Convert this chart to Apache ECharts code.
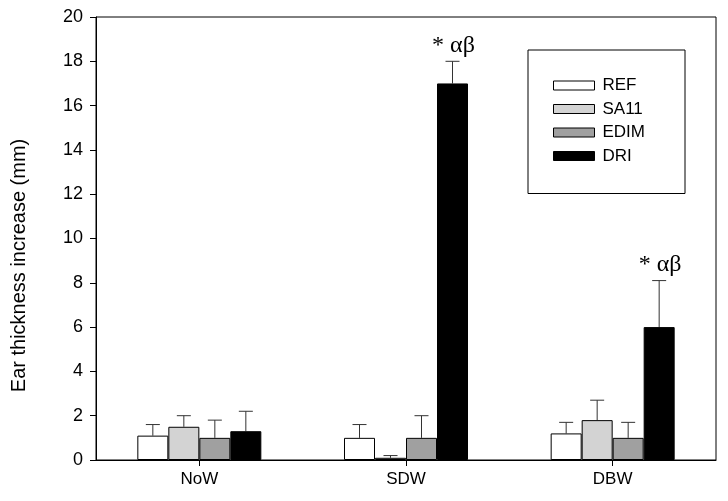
<!DOCTYPE html>
<html>
<head>
<meta charset="utf-8">
<script src="https://cdn.jsdelivr.net/npm/echarts@6/dist/echarts.min.js"></script>
<style>html,body{margin:0;padding:0;background:#fff;}#c{width:728px;height:501px;}</style>
</head>
<body>
<div id="c"></div>
<script>
const categories = ['NoW', 'SDW', 'DBW'];
const seriesNames = ['REF', 'SA11', 'EDIM', 'DRI'];
const refValues = [1.1, 1.0, 1.2];
const sa11Values = [1.5, 0.1, 1.8];
const edimValues = [1.0, 1.0, 1.0];
const driValues = [1.3, 17.0, 6.0];
const refErr = [0.5, 0.6, 0.5];
const sa11Err = [0.5, 0.1, 0.9];
const edimErr = [0.8, 1.0, 0.7];
const driErr = [0.9, 1.0, 2.1];
const annotations = ['', '* αβ', '* αβ'];
const yTicks = [0, 2, 4, 6, 8, 10, 12, 14, 16, 18, 20];

const colors = ['#ffffff', '#d3d3d3', '#a0a0a0', '#000000'];
const values = [refValues, sa11Values, edimValues, driValues];
const errs = [refErr, sa11Err, edimErr, driErr];
const sans = '"Liberation Sans", Arial, sans-serif';

const chart = echarts.init(document.getElementById('c'), null, {renderer: 'canvas'});

const barSeries = seriesNames.map((n, i) => ({
  name: n,
  type: 'bar',
  data: values[i],
  barGap: 0,
  barCategoryGap: '40%',
  itemStyle: {color: colors[i], borderColor: '#000', borderWidth: 1},
  emphasis: {disabled: true},
  z: 2
}));

const errData = [];
values.forEach((arr, s) => arr.forEach((v, c) => errData.push([c, v, errs[s][c], s])));

const errSeries = {
  type: 'custom',
  data: errData,
  encode: {x: 0, y: 1},
  z: 1,
  renderItem: function (params, api) {
    const c = api.value(0), v = api.value(1), e = api.value(2), s = api.value(3);
    const band = api.size([1, 0])[0];
    const x = api.coord([c, 0])[0] + (s - 1.5) * band * 0.15;
    const y0 = api.coord([c, v])[1];
    const y1 = api.coord([c, v + e])[1];
    const st = {stroke: '#333', lineWidth: 1};
    return {type: 'group', children: [
      {type: 'line', shape: {x1: x, y1: y0, x2: x, y2: y1}, style: st},
      {type: 'line', shape: {x1: x - 7, y1: y1, x2: x + 7, y2: y1}, style: st}
    ]};
  }
};

const annData = annotations.map((t, c) => [c, driValues[c] + driErr[c], t]);
const annSeries = {
  type: 'custom',
  data: annData,
  encode: {x: 0, y: 1},
  z: 3,
  renderItem: function (params, api) {
    const c = api.value(0), top = api.value(1);
    const t = annotations[params.dataIndex];
    if (!t) return null;
    const band = api.size([1, 0])[0];
    const x = api.coord([c, 0])[0] + 1.5 * band * 0.15 + 1;
    const y = api.coord([c, top])[1] - 4;
    return {type: 'text', style: {text: t, x: x, y: y, align: 'center', verticalAlign: 'bottom',
      font: '24px "Liberation Serif", "DejaVu Serif", serif', fill: '#000'}};
  }
};

chart.setOption({
  animation: false,
  grid: {left: 96, right: 12, top: 17, bottom: 41, show: true, borderColor: '#000', borderWidth: 1},
  legend: {
    data: seriesNames,
    orient: 'vertical',
    left: 528, top: 50,
    padding: [27, 40, 29, 25],
    itemWidth: 41, itemHeight: 9, itemGap: 6.5,
    borderColor: '#000', borderWidth: 1,
    icon: 'rect',
    selectedMode: false,
    itemStyle: {borderColor: '#000', borderWidth: 1},
    textStyle: {fontFamily: sans, fontSize: 17, color: '#000', lineHeight: 16, padding: [0, 0, 0, 3]}
  },
  xAxis: {
    type: 'category',
    data: categories,
    axisLine: {lineStyle: {color: '#000', width: 1}},
    axisTick: {show: true, alignWithLabel: true, length: 6, lineStyle: {color: '#000'}},
    axisLabel: {color: '#000', fontFamily: sans, fontSize: 17, margin: 11}
  },
  yAxis: {
    type: 'value',
    min: 0, max: 20, interval: 2,
    name: 'Ear thickness increase (mm)',
    nameLocation: 'middle',
    nameGap: 67,
    nameTextStyle: {color: '#000', fontFamily: sans, fontSize: 20, padding: [0, 54, 0, 0]},
    axisLine: {show: true, lineStyle: {color: '#000', width: 1}},
    axisTick: {show: true, length: 6, lineStyle: {color: '#000'}},
    splitLine: {show: false},
    axisLabel: {color: '#000', fontFamily: sans, fontSize: 18, margin: 13,
      formatter: v => yTicks.includes(v) ? String(v) : ''}
  },
  series: [...barSeries, errSeries, annSeries]
});
</script>
</body>
</html>
